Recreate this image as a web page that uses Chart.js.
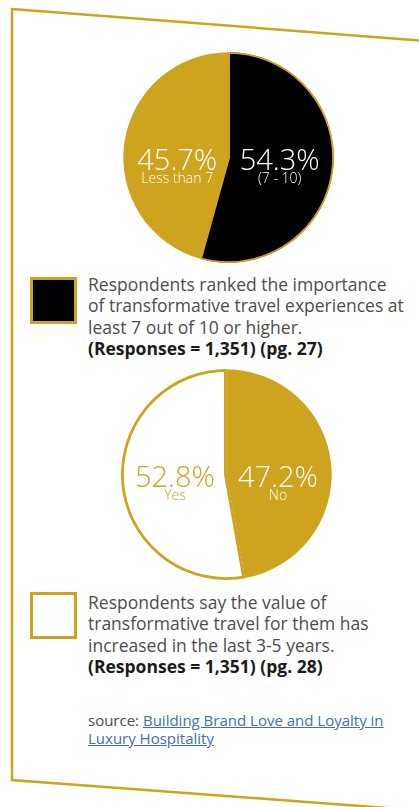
<!DOCTYPE html>
<html>
<head>
<meta charset="utf-8">
<script src="https://cdn.jsdelivr.net/npm/chart.js@4/dist/chart.umd.min.js"></script>
<style>
  html, body { margin: 0; padding: 0; background: #fff; }
  body { width: 419px; height: 807px; position: relative; overflow: hidden; font-family: "Open Sans", sans-serif; }
  .frame { position: absolute; left: 0; top: 0; }
  .pie { position: absolute; }
  .box { position: absolute; width: 41px; height: 41px; border: 3px solid #CEA31D; }
  .txt { position: absolute; left: 88px; width: 330px; white-space: nowrap; font-size: 17.5px; line-height: 21.5px; color: #4d4d4d; font-weight: 400; }
  .txt b { color: #1a1a1a; font-weight: 700; }
  .src { position: absolute; left: 88px; top: 711px; width: 330px; white-space: nowrap; font-size: 15px; line-height: 18px; color: #4d4d4d; }
  .src a { color: #3f6fb4; text-decoration: underline; }
</style>
</head>
<body>
<svg class="frame" width="419" height="807">
  <polygon points="12,9 440,42 440,812 12,780" fill="none" stroke="#CEA31D" stroke-width="2.5"/>
</svg>

<canvas id="pie1" class="pie" style="left:123px;top:52px;" width="211" height="211"></canvas>
<div class="box" style="left:30px;top:277px;background:#000;"></div>
<div class="txt" style="top:273.5px;">Respondents ranked the importance<br>of transformative travel experiences at<br>least 7 out of 10 or higher.<br><b>(Responses = 1,351) (pg. 27)</b></div>

<canvas id="pie2" class="pie" style="left:121px;top:369px;" width="211" height="211"></canvas>
<div class="box" style="left:30px;top:592px;background:#fff;"></div>
<div class="txt" style="top:591.5px;">Respondents say the value of<br>transformative travel for them has<br>increased in the last 3-5 years.<br><b>(Responses = 1,351) (pg. 28)</b></div>

<div class="src">source: <a href="#">Building Brand Love and Loyalty in </a><br><a href="#">Luxury Hospitality</a></div>

<script>
const GOLD = '#CEA31D';

// Chart 1: importance of transformative travel
const labels1 = ['(7 - 10)', 'Less than 7'];
const values1 = [54.3, 45.7];
const colors1 = ['#000000', GOLD];
const textColors1 = ['#ffffff', '#ffffff'];

// Chart 2: value increased in last 3-5 years
const labels2 = ['No', 'Yes'];
const values2 = [47.2, 52.8];
const colors2 = [GOLD, '#ffffff'];
const textColors2 = ['#ffffff', GOLD];

const sliceLabels = {
  id: 'sliceLabels',
  afterDatasetsDraw(chart, args, opts) {
    const ctx = chart.ctx;
    const meta = chart.getDatasetMeta(0);
    const ds = chart.data.datasets[0];
    meta.data.forEach((arc, i) => {
      const p = arc.getProps(['x', 'y', 'startAngle', 'endAngle', 'outerRadius'], true);
      const mid = (p.startAngle + p.endAngle) / 2;
      const r = p.outerRadius * 0.49;
      const x = p.x + Math.cos(mid) * r;
      const y = p.y;
      ctx.save();
      ctx.fillStyle = opts.textColors[i];
      ctx.textAlign = 'center';
      ctx.textBaseline = 'alphabetic';
      ctx.font = '300 29px "Open Sans", sans-serif';
      ctx.fillText(ds.data[i].toFixed(1) + '%', x, y + 12);
      ctx.font = '300 14px "Open Sans", sans-serif';
      ctx.fillText(chart.data.labels[i], x, y + 25);
      ctx.restore();
    });
  }
};

function makePie(id, labels, values, colors, borderColors, borderWidth, textColors) {
  new Chart(document.getElementById(id), {
    type: 'pie',
    data: {
      labels: labels,
      datasets: [{
        data: values,
        backgroundColor: colors,
        borderColor: borderColors,
        borderWidth: borderWidth,
        borderAlign: 'inner'
      }]
    },
    options: {
      responsive: false,
      animation: false,
      layout: { padding: 0 },
      plugins: {
        legend: { display: false },
        tooltip: { enabled: false },
        sliceLabels: { textColors: textColors }
      }
    },
    plugins: [sliceLabels]
  });
}

makePie('pie1', labels1, values1, colors1, [GOLD, GOLD], [1.5, 0], textColors1);
makePie('pie2', labels2, values2, colors2, [GOLD, GOLD], [0, 2.5], textColors2);
</script>
</body>
</html>
